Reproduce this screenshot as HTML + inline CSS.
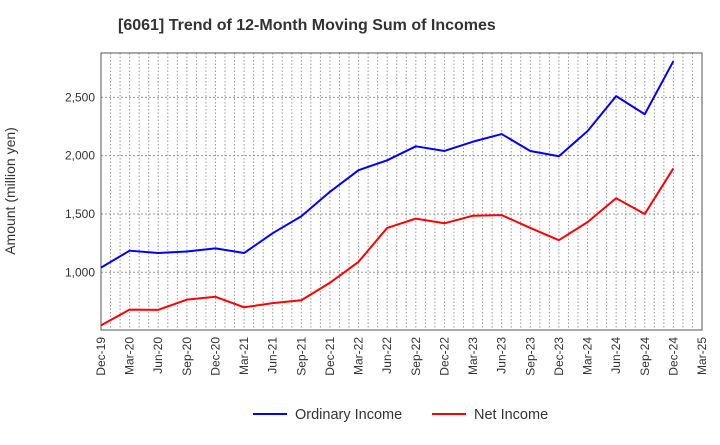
<!DOCTYPE html>
<html><head><meta charset="utf-8"><style>
body{margin:0;background:#fff;font-family:"Liberation Sans",sans-serif}
</style></head><body>
<svg width="720" height="440" xmlns="http://www.w3.org/2000/svg" font-family="Liberation Sans, sans-serif">
<text x="118" y="30" font-size="16" font-weight="bold" fill="#333">[6061]  Trend of 12-Month Moving Sum of Incomes</text>
<g id="grid"></g>
<g id="axes"></g>
<g id="series"></g>
<text transform="translate(15,191) rotate(-90)" text-anchor="middle" font-size="14" fill="#333">Amount (million yen)</text>
<g>
<line x1="253" y1="414" x2="287" y2="414" stroke="#0000ff" stroke-width="2"/>
<text x="295" y="419" font-size="14.5" fill="#333">Ordinary Income</text>
<line x1="432" y1="414" x2="466" y2="414" stroke="#ff0000" stroke-width="2"/>
<text x="474" y="419" font-size="14.5" fill="#333">Net Income</text>
</g>
</svg>
<script>
const categories=["Dec-19","Mar-20","Jun-20","Sep-20","Dec-20","Mar-21","Jun-21","Sep-21","Dec-21","Mar-22","Jun-22","Sep-22","Dec-22","Mar-23","Jun-23","Sep-23","Dec-23","Mar-24","Jun-24","Sep-24","Dec-24","Mar-25"];
const ordinaryIncome=[1040,1185,1165,1178,1205,1165,1335,1480,1690,1875,1960,2080,2040,2120,2185,2040,1995,2210,2510,2355,2810];
const netIncome=[545,680,678,765,790,700,735,760,910,1090,1380,1460,1420,1485,1490,1380,1275,1430,1635,1500,1890];
const yTicks=[1000,1500,2000,2500];
const yTickLabels=["1,000","1,500","2,000","2,500"];
const L=101,R=702,T=53,B=330,yMin=505,yMax=2880;
const ns="http://www.w3.org/2000/svg";
const xs=i=>L+(R-L)*i/(categories.length-1);
const ys=v=>B-(v-yMin)/(yMax-yMin)*(B-T);
function mk(tag,attrs,parent){const e=document.createElementNS(ns,tag);for(const k in attrs)e.setAttribute(k,attrs[k]);document.getElementById(parent).appendChild(e);return e;}
const months=(categories.length-1)*3;
for(let m=1;m<months;m++){const x=L+(R-L)*m/months;
const g=mk("line",{x1:x,x2:x,y1:T,y2:B,stroke:"#999","stroke-dasharray":"1.5,2","stroke-width":1},"grid");

}
yTicks.forEach((v,i)=>{const y=ys(v);
const g=mk("line",{x1:L,x2:R,y1:y,y2:y,stroke:"#999","stroke-dasharray":"2,2","stroke-width":1},"grid");


const t=mk("text",{x:L-6,y:y+4,"text-anchor":"end","font-size":12,fill:"#333"},"axes");t.textContent=yTickLabels[i];

});
const fr=mk("rect",{x:L,y:T,width:R-L,height:B-T,fill:"none",stroke:"#555","stroke-width":1},"axes");


categories.forEach((c,i)=>{const x=xs(i);
const t=mk("text",{transform:`translate(${x+4},${B+7}) rotate(-90)`,"text-anchor":"end","font-size":12,fill:"#333"},"axes");t.textContent=c;

});
function line(data,color,name){const p=mk("polyline",{points:data.map((v,i)=>xs(i)+","+ys(v)).join(" "),fill:"none",stroke:color,"stroke-width":2,"stroke-linejoin":"round"},"series");

}
line(ordinaryIncome,"#0000ff","ordinary-income-line");
line(netIncome,"#ff0000","net-income-line");
</script>
</body></html>
